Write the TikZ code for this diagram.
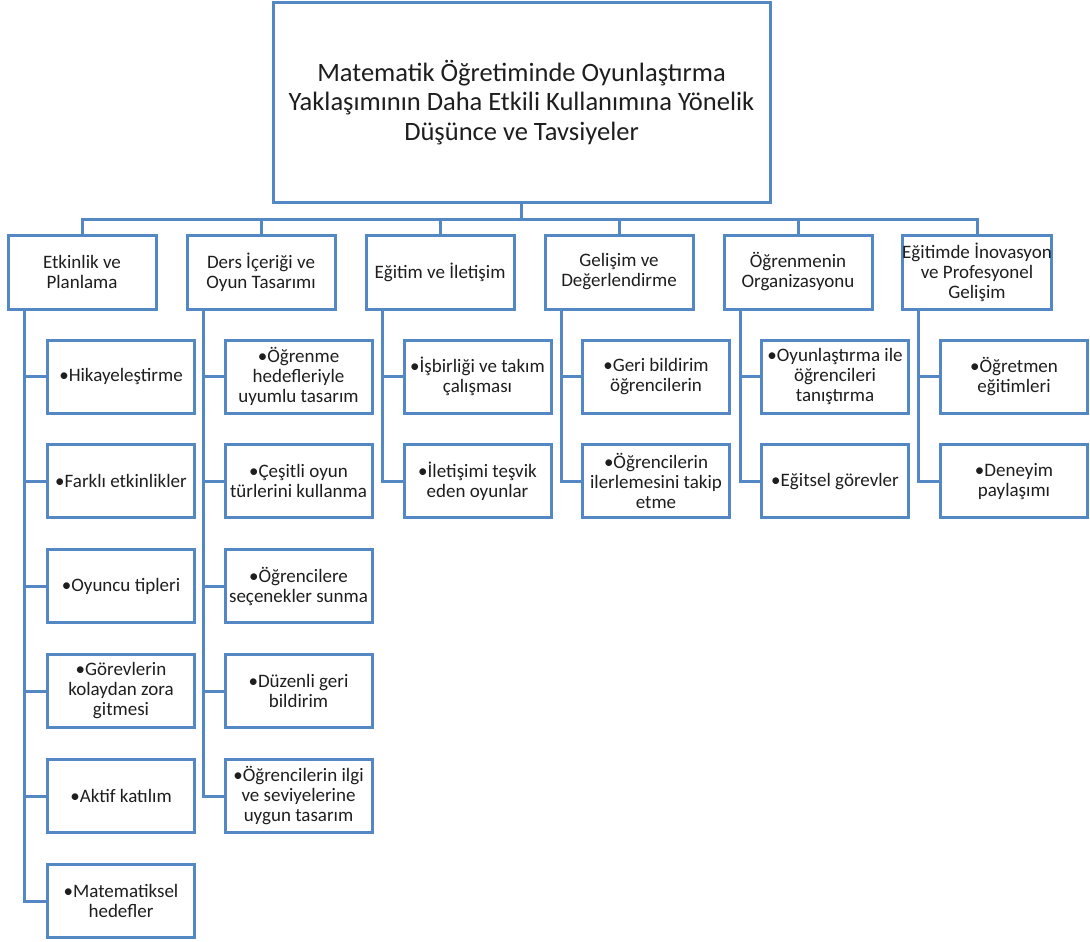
\documentclass[tikz,border=0pt]{standalone}
\usepackage{fontspec}
\setmainfont{Carlito}
\begin{document}
\definecolor{edge}{RGB}{84,136,196}
\definecolor{ink}{RGB}{30,30,30}
\begin{tikzpicture}[x=1pt,y=-1pt,
  every node/.style={inner sep=0pt,outer sep=0pt},
  frame/.style={draw=edge,line width=3pt,fill=white,align=center,text=ink},
  titlebox/.style={frame,minimum width=497pt,minimum height=199pt,font=\fontsize{26.5}{29.5}\selectfont},
  headbox/.style={frame,minimum width=148pt,minimum height=74pt,font=\fontsize{19}{20}\selectfont},
  itembox/.style={frame,minimum width=147pt,minimum height=73pt,font=\fontsize{19}{20}\selectfont},
  link/.style={draw=edge,line width=3pt}]
\useasboundingbox (0,0) rectangle (1090,942);

% root
\node[titlebox] (root) at (521.5,102.5)
  {Matematik Öğretiminde Oyunlaştırma\\Yaklaşımının Daha Etkili Kullanımına Yönelik\\Düşünce ve Tavsiyeler};

% main categories
\node[headbox] (p1) at (82,272)  {Etkinlik ve\\Planlama};
\node[headbox] (p2) at (261,272) {Ders İçeriği ve\\Oyun Tasarımı};
\node[headbox] (p3) at (440,272) {Eğitim ve İletişim};
\node[headbox] (p4) at (619,272) {Gelişim ve\\Değerlendirme};
\node[headbox] (p5) at (798,272) {Öğrenmenin\\Organizasyonu};
\node[headbox] (p6) at (977,272) {Eğitimde İnovasyon\\ve Profesyonel\\Gelişim};

% bus from root to categories
\coordinate (bus) at (521.5,219);
\draw[link] (root.south) -- (bus);
\foreach \p in {p1,p2,p3,p4,p5,p6}
  \draw[link] (bus) -| (\p.north);

% column 1
\node[itembox] (c11) at (121,376.5) {•Hikayeleştirme};
\node[itembox] (c12) at (121,481.2) {•Farklı etkinlikler};
\node[itembox] (c13) at (121,586)   {•Oyuncu tipleri};
\node[itembox] (c14) at (121,691)   {•Görevlerin\\kolaydan zora\\gitmesi};
\node[itembox] (c15) at (121,796)   {•Aktif katılım};
\node[itembox] (c16) at (121,901)   {•Matematiksel\\hedefler};

% column 2
\node[itembox] (c21) at (298.5,376.5) {•Öğrenme\\hedefleriyle\\uyumlu tasarım};
\node[itembox] (c22) at (298.5,481.2) {•Çeşitli oyun\\türlerini kullanma};
\node[itembox] (c23) at (298.5,586)   {•Öğrencilere\\seçenekler sunma};
\node[itembox] (c24) at (298.5,691)   {•Düzenli geri\\bildirim};
\node[itembox] (c25) at (298.5,796)   {•Öğrencilerin ilgi\\ve seviyelerine\\uygun tasarım};

% column 3
\node[itembox] (c31) at (477.5,376.5) {•İşbirliği ve takım\\çalışması};
\node[itembox] (c32) at (477.5,481.2) {•İletişimi teşvik\\eden oyunlar};

% column 4
\node[itembox] (c41) at (656,376.5) {•Geri bildirim\\öğrencilerin};
\node[itembox] (c42) at (656,481.2) {•Öğrencilerin\\ilerlemesini takip\\etme};

% column 5
\node[itembox] (c51) at (835,376.5) {•Oyunlaştırma ile\\öğrencileri\\tanıştırma};
\node[itembox] (c52) at (835,481.2) {•Eğitsel görevler};

% column 6
\node[itembox] (c61) at (1014,376.5) {•Öğretmen\\eğitimleri};
\node[itembox] (c62) at (1014,481.2) {•Deneyim\\paylaşımı};

% elbow links from each category to its items
\foreach \p/\items in {p1/{c11,c12,c13,c14,c15,c16},p2/{c21,c22,c23,c24,c25},
                       p3/{c31,c32},p4/{c41,c42},p5/{c51,c52},p6/{c61,c62}}
  \foreach \c in \items
    \draw[link] ([xshift=16pt]\p.south west) |- (\c.west);

% redraw item frames over the link ends
\foreach \c in {c11,c12,c13,c14,c15,c16,c21,c22,c23,c24,c25,c31,c32,c41,c42,c51,c52,c61,c62}
  \draw[draw=edge,line width=3pt] (\c.north west) rectangle (\c.south east);
\end{tikzpicture}
\end{document}
